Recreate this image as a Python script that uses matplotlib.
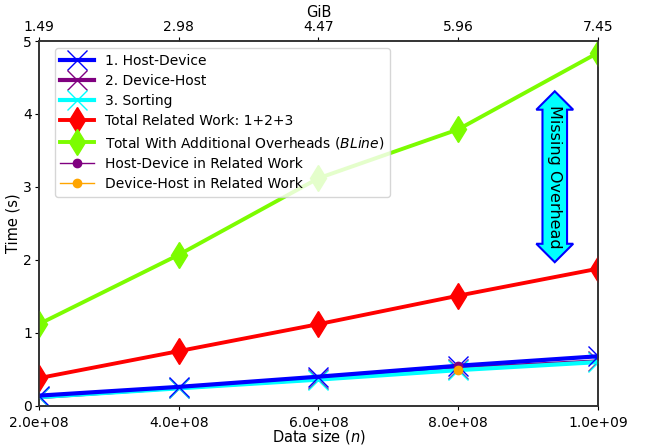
import numpy as np
import matplotlib
matplotlib.use('Agg')
import matplotlib.pyplot as plt

sizes = [2e8, 4e8, 6e8, 8e8, 1e9]
gib_labels = ['1.49', '2.98', '4.47', '5.96', '7.45']

host_device = [0.14, 0.26, 0.40, 0.55, 0.68]
device_host = [0.12, 0.25, 0.37, 0.51, 0.61]
sorting = [0.12, 0.24, 0.36, 0.49, 0.60]
total_related = [0.38, 0.75, 1.12, 1.51, 1.88]
total_bline = [1.12, 2.07, 3.12, 3.79, 4.84]

rw_x = [8e8]
rw_host_device = [0.54]
rw_device_host = [0.49]

plt.rcParams['font.size'] = 10
plt.rcParams['axes.edgecolor'] = '#333333'
plt.rcParams['axes.linewidth'] = 1.2

fig, ax = plt.subplots(figsize=(6.48, 4.46), dpi=100)
fig.subplots_adjust(left=0.06, right=0.923, top=0.908, bottom=0.09)

ax.plot(sizes, host_device, color='blue', lw=3, marker='x', ms=14, mew=1, label='1. Host-Device', zorder=5)
ax.plot(sizes, device_host, color='purple', lw=3, marker='x', ms=14, mew=1, label='2. Device-Host', zorder=4)
ax.plot(sizes, sorting, color='cyan', lw=3, marker='x', ms=14, mew=1, label='3. Sorting', zorder=4)
ax.plot(sizes, total_related, color='red', lw=2.8, marker='d', ms=13, label='Total Related Work: 1+2+3', zorder=5)
ax.plot(sizes, total_bline, color='lawngreen', lw=2.8, marker='d', ms=13,
        label='Total With Additional Overheads ($BLine$)', zorder=5)
ax.plot(rw_x, rw_host_device, color='purple', lw=1, marker='o', ms=6, label='Host-Device in Related Work', zorder=6)
ax.plot(rw_x, rw_device_host, color='orange', lw=1, marker='o', ms=6, label='Device-Host in Related Work', zorder=6)

ax.set_xlim(2e8, 1e9)
ax.set_ylim(0, 5)
ax.set_xticks(sizes)
ax.set_xticklabels(['%.1e' % s for s in sizes])
ax.set_xlabel('Data size ($n$)', labelpad=-1, fontsize=10.5)
ax.set_ylabel('Time (s)', labelpad=2, fontsize=10.5)
ax.tick_params(axis='y', length=3, pad=2)
ax.tick_params(axis='x', length=3, pad=4)

ax2 = ax.twiny()
ax2.set_xlim(ax.get_xlim())
ax2.set_xticks(sizes)
ax2.set_xticklabels(gib_labels)
ax2.set_xlabel('GiB', labelpad=2, fontsize=10.5)
ax2.tick_params(length=3, pad=2)

ax.text(9.38e8, 3.14, 'Missing Overhead', rotation=-90, ha='center', va='center', fontsize=11.5,
        bbox=dict(boxstyle='darrow,pad=0.3', fc='cyan', ec='blue', lw=1.5))

leg = ax.legend(loc='upper left', bbox_to_anchor=(0.0286, 0.981), borderaxespad=0,
                fontsize=10, handlelength=2.4, labelspacing=0.45, handletextpad=0.8,
                edgecolor='#cccccc')

plt.savefig('out.png', dpi=100)
